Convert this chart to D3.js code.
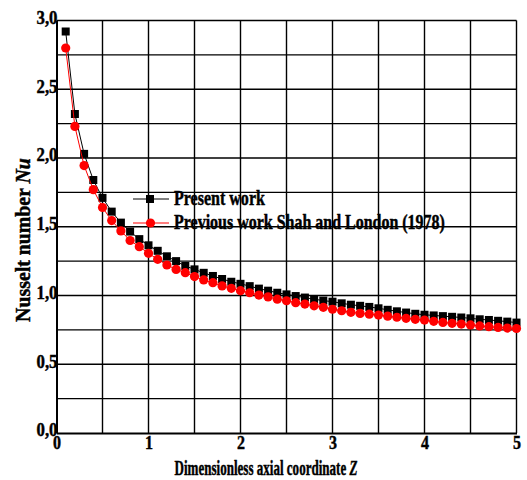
<!DOCTYPE html>
<html>
<head>
<meta charset="utf-8">
<script src="https://cdn.jsdelivr.net/npm/d3@7"></script>
<style>
    body { margin: 0; background: #fff; }
    text { font-family: "Liberation Serif", "Times New Roman", serif; font-weight: bold;
           stroke: #000; stroke-width: 0.45px; }
</style>
</head>
<body>
<div id="chart"></div>
<script>
// 軸向座標 Z
const zValues = [0.1, 0.2, 0.3, 0.4, 0.5, 0.6, 0.7, 0.8, 0.9, 1.0,
    1.1, 1.2, 1.3, 1.4, 1.5, 1.6, 1.7, 1.8, 1.9, 2.0,
    2.1, 2.2, 2.3, 2.4, 2.5, 2.6, 2.7, 2.8, 2.9, 3.0,
    3.1, 3.2, 3.3, 3.4, 3.5, 3.6, 3.7, 3.8, 3.9, 4.0,
    4.1, 4.2, 4.3, 4.4, 4.5, 4.6, 4.7, 4.8, 4.9, 5.0];

// Present work
const presentNu = [2.92, 2.32, 2.03, 1.84, 1.71, 1.61, 1.53, 1.465, 1.41, 1.365,
    1.325, 1.285, 1.25, 1.215, 1.19, 1.165, 1.142, 1.12, 1.10, 1.085,
    1.068, 1.05, 1.035, 1.02, 1.008, 0.996, 0.985, 0.973, 0.963, 0.955,
    0.943, 0.933, 0.925, 0.917, 0.907, 0.896, 0.885, 0.876, 0.867, 0.860,
    0.855, 0.850, 0.845, 0.840, 0.834, 0.827, 0.822, 0.816, 0.810, 0.803];

// Previous work Shah and London (1978)
const previousNu = [2.80, 2.23, 1.945, 1.77, 1.64, 1.545, 1.47, 1.40, 1.355, 1.307,
    1.263, 1.222, 1.19, 1.166, 1.138, 1.113, 1.093, 1.07, 1.052, 1.035,
    1.02, 1.003, 0.99, 0.973, 0.962, 0.948, 0.938, 0.925, 0.914, 0.90,
    0.889, 0.878, 0.870, 0.864, 0.858, 0.850, 0.842, 0.834, 0.827, 0.821,
    0.812, 0.804, 0.798, 0.792, 0.786, 0.779, 0.773, 0.768, 0.763, 0.760];

const xTicks = [0, 1, 2, 3, 4, 5];
const yTicks = [0, 0.5, 1.0, 1.5, 2.0, 2.5, 3.0];
const xGrid = [0.5, 1, 1.5, 2, 2.5, 3, 3.5, 4, 4.5, 5];
const yGrid = [0.25, 0.5, 0.75, 1, 1.25, 1.5, 1.75, 2, 2.25, 2.5, 2.75, 3];

const width = 527;
const height = 480;

const x = d3.scaleLinear().domain([0, 5]).range([56.5, 516.5]);
const y = d3.scaleLinear().domain([0, 3]).range([433, 20.5]);

const svg = d3.select("#chart").append("svg")
    .attr("width", width)
    .attr("height", height);

// 把文字水平壓縮到指定寬度 (原圖字型是窄體)
function squeeze(textSel, w, cx, cy) {
    const node = textSel.node();
    const len = node.getComputedTextLength();
    const k = Math.min(1, w / len);
    const prev = textSel.attr("transform") || "";
    textSel.attr("transform", `${prev} translate(${cx},${cy}) scale(${k},1) translate(${-cx},${-cy})`);
}

// 格線
svg.append("g")
    .selectAll("line")
    .data(xGrid)
    .join("line")
    .attr("x1", d => x(d)).attr("x2", d => x(d))
    .attr("y1", y(0)).attr("y2", y(3))
    .attr("stroke", "#000")
    .attr("stroke-width", 1.4);

svg.append("g")
    .selectAll("line")
    .data(yGrid)
    .join("line")
    .attr("x1", x(0)).attr("x2", x(5))
    .attr("y1", d => y(d)).attr("y2", d => y(d))
    .attr("stroke", "#000")
    .attr("stroke-width", 1.4);

// 軸
const xAxis = svg.append("g")
    .attr("transform", `translate(0,${y(0)})`)
    .call(d3.axisBottom(x).tickValues(xTicks).tickSize(0).tickPadding(3).tickFormat(d3.format("d")));
xAxis.select(".domain").attr("stroke", "#000").attr("stroke-width", 2);
xAxis.selectAll("text").attr("font-size", 19).attr("fill", "#000")
    .attr("font-family", "Liberation Serif").attr("font-weight", "bold")
    .each(function () { squeeze(d3.select(this), 8, 0, 0); });

const yAxis = svg.append("g")
    .attr("transform", `translate(${x(0)},0)`)
    .call(d3.axisLeft(y).tickValues(yTicks).tickSize(0).tickPadding(-1)
        .tickFormat(d => d3.format(".1f")(d).replace(".", ",")));
yAxis.select(".domain").attr("stroke", "#000").attr("stroke-width", 2);
yAxis.selectAll("text").attr("font-size", 19).attr("fill", "#000")
    .attr("font-family", "Liberation Serif").attr("font-weight", "bold")
    .attr("dy", "0.15em")
    .each(function () { squeeze(d3.select(this), 21, 1, 0); });

// 資料線
const presentData = zValues.map((z, i) => [z, presentNu[i]]);
const previousData = zValues.map((z, i) => [z, previousNu[i]]);
const line = d3.line().x(d => x(d[0])).y(d => y(d[1]));

svg.append("path")
    .datum(presentData)
    .attr("d", line)
    .attr("fill", "none")
    .attr("stroke", "#000")
    .attr("stroke-width", 1);

svg.append("g")
    .selectAll("rect")
    .data(presentData)
    .join("rect")
    .attr("x", d => x(d[0]) - 4)
    .attr("y", d => y(d[1]) - 4)
    .attr("width", 8)
    .attr("height", 8)
    .attr("fill", "#000");

svg.append("path")
    .datum(previousData)
    .attr("d", line)
    .attr("fill", "none")
    .attr("stroke", "#ff0000")
    .attr("stroke-width", 1);

svg.append("g")
    .selectAll("circle")
    .data(previousData)
    .join("circle")
    .attr("cx", d => x(d[0]))
    .attr("cy", d => y(d[1]))
    .attr("r", 4.6)
    .attr("fill", "#ff0000");

// 圖例
const legend = svg.append("g");
legend.append("line")
    .attr("x1", 133).attr("x2", 169).attr("y1", 199).attr("y2", 199)
    .attr("stroke", "#000").attr("stroke-width", 1);
legend.append("rect")
    .attr("x", 146).attr("y", 195).attr("width", 8).attr("height", 8)
    .attr("fill", "#000");
const leg1 = legend.append("text")
    .attr("x", 174).attr("y", 205)
    .attr("font-size", 20)
    .text("Present work");
squeeze(leg1, 91, 174, 205);

legend.append("line")
    .attr("x1", 133).attr("x2", 169).attr("y1", 223).attr("y2", 223)
    .attr("stroke", "#ff0000").attr("stroke-width", 1);
legend.append("circle")
    .attr("cx", 150.5).attr("cy", 223).attr("r", 4.6)
    .attr("fill", "#ff0000");
const leg2 = legend.append("text")
    .attr("x", 174).attr("y", 229)
    .attr("font-size", 20)
    .text("Previous work Shah and London (1978)");
squeeze(leg2, 271, 174, 229);

// 軸標題
const xTitle = svg.append("text")
    .attr("x", 266).attr("y", 475)
    .attr("text-anchor", "middle")
    .attr("font-size", 20);
xTitle.append("tspan").text("Dimensionless axial coordinate ");
xTitle.append("tspan").attr("font-style", "italic").text("Z");
squeeze(xTitle, 183, 266, 475);

const yTitle = svg.append("text")
    .attr("transform", "translate(30,240) rotate(-90)")
    .attr("text-anchor", "middle")
    .attr("font-size", 20);
yTitle.append("tspan").text("Nusselt number ");
yTitle.append("tspan").attr("font-style", "italic").text("Nu");
squeeze(yTitle, 164, 0, 0);
</script>
</body>
</html>
